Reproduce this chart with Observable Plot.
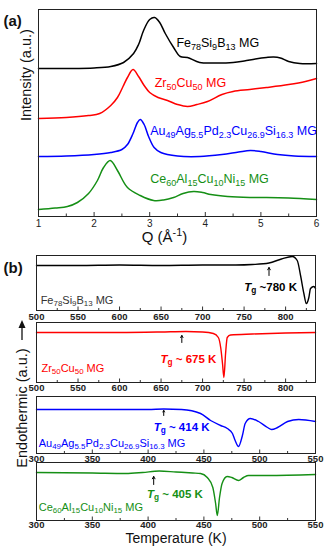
<!DOCTYPE html>
<html><head><meta charset="utf-8">
<script src="https://cdn.jsdelivr.net/npm/d3@7"></script>
<script src="https://cdn.jsdelivr.net/npm/@observablehq/plot@0.6"></script>
<style>
html,body{margin:0;padding:0;background:#fff;}
#root{position:relative;width:329px;height:550px;overflow:hidden;font-family:'Liberation Sans',Arial,sans-serif;}
#root svg{position:absolute;left:0;overflow:visible;background:transparent;}
</style></head><body><div id="root"></div>
<script>
// ---------- (a) XRD data: Q (1/Å) vs intensity (a.u., stacked) ----------
const feQ = [1.0,1.5,2.0,2.3,2.53,2.71,2.8,2.89,3.0,3.09,3.18,3.28,3.43,3.55,3.68,3.9,4.2,4.5,4.7,4.9,5.1,5.23,5.35,5.5,5.7,6.0];
const feI = [148,148,148.5,150,154,163,172,186,197,199,194,183,169,160,159,154,153.5,154,155.5,157.5,159,159.5,158.5,155,153,153];
const zrQ = [1.0,1.5,1.9,2.1,2.3,2.42,2.52,2.6,2.7,2.8,2.9,3.0,3.15,3.32,3.5,3.68,3.85,4.04,4.3,4.5,4.8,5.1,5.5,5.8,6.0];
const zrI = [98,99,101,103,111,119,130,139,147,140,131,124,119,116,112,110,112,115,122,125,127,129,132,135,138];
const auQ = [1.0,1.5,2.0,2.3,2.5,2.6,2.7,2.78,2.83,2.9,2.98,3.08,3.2,3.5,3.9,4.3,4.6,4.81,5.0,5.3,5.6,6.0];
const auI = [60,60.5,62,64,67,72,83,94,97,92,80,69,64,60.5,60,62,64.5,66,65,62,60.5,60];
const ceQ = [1.0,1.3,1.52,1.7,1.9,2.06,2.17,2.29,2.42,2.6,2.83,3.07,3.25,3.43,3.6,3.79,3.95,4.1,4.4,4.8,5.1,5.5,6.0];
const ceI = [7,8.5,10,14,23,36,49,56,46,29,21,16,16.5,19,23,25,24,22,20,19,19,18.5,17];
const xrdTicks = [1,2,3,4,5,6];
const xrdMinor = [1.5,2.5,3.5,4.5,5.5];
const xrdLabels = [
  {Q: 3.48, I: 174, text: "Fe_{78}Si_{9}B_{13} MG", color: "#000000"},
  {Q: 3.09, I: 134, text: "Zr_{50}Cu_{50} MG", color: "#ff0000"},
  {Q: 3.01, I: 86,  text: "Au_{49}Ag_{5.5}Pd_{2.3}Cu_{26.9}Si_{16.3} MG", color: "#0000ff"},
  {Q: 3.01, I: 38,  text: "Ce_{60}Al_{15}Cu_{10}Ni_{15} MG", color: "#158f15"}
];

// ---------- (b) DSC data: temperature (K) vs heat flow (a.u.) ----------
const feT = [500,550,600,650,700,740,760,780,795,808,814,818,822,825,828,830,834,836];
const feDSC = [45,45,45.5,45,45.5,45.5,46,47.5,51.5,54,50,35,17,7,13,22,24,22];
const zrT = [500,550,600,650,680,700,713,719,722,724,725.7,727.7,729.7,733.7,760,800,836];
const zrDSC = [50,50,50,50.5,51,50.5,49,45,34,19,5,29,45,47.5,48.5,49.5,50];
const auT = [300,350,400,414,430,447,456,465,471,475.6,478,481,484.5,487,491.6,499,507,510.6,516,525,535,550];
const auDSC = [44,44,44,44.5,44,40,33,28,25,20,13,7,18,30,35,32,26,24,26,32,34,32];
const ceT = [300,350,380,395,410,425,440,447,453,458,460.5,462,464,466.3,470.8,475,481,485.5,490,507,550];
const ceDSC = [48,47.5,47,48,49.5,48.5,47.5,47,43,33,17,5,23,37,44,43,40,43,45,45,46];
const highTicks = [500,550,600,650,700,750,800];
const highMinor = [525,575,625,675,725,775,825];
const lowTicks = [300,350,400,450,500,550];
const lowMinor = [325,375,425,475,525];
const tgArrows = [
  {T: 780, y1: 35, y2: 43},
  {T: 675, y1: 40, y2: 47},
  {T: 414, y1: 38, y2: 43},
  {T: 405, y1: 36, y2: 44}
];
const tgLabels = [
  {T: 782, v: 23, text: "*T*_{g} ~780 K"},
  {T: 683, v: 23, text: "*T*_{g} ~ 675 K"},
  {T: 430, v: 26, text: "*T*_{g} ~ 414 K"},
  {T: 424, v: 26, text: "*T*_{g} ~ 405 K"}
];
const dscNames = [
  {T: 505, v: 10, text: "Fe_{78}Si_{9}B_{13} MG"},
  {T: 506, v: 14, text: "Zr_{50}Cu_{50} MG"},
  {T: 302, v: 10, text: "Au_{49}Ag_{5.5}Pd_{2.3}Cu_{26.9}Si_{16.3} MG"},
  {T: 302, v: 13, text: "Ce_{60}Al_{15}Cu_{10}Ni_{15} MG"}
];
const colors = ["#000000", "#ff0000", "#0000ff", "#158f15"];

const FONT = "'Liberation Sans', Arial, Helvetica, sans-serif";
const root = document.getElementById("root");
const zip = (xs, ys, kx, ky) => xs.map((x, i) => ({[kx]: x, [ky]: ys[i]}));

function rich(svg) {
  svg.querySelectorAll("text").forEach(t => {
    const s = t.textContent;
    if (!/[_^]\{|\*/.test(s)) return;
    while (t.firstChild) t.removeChild(t.firstChild);
    const re = /_\{([^}]*)\}|\^\{([^}]*)\}|\*([^*]*)\*/g;
    let last = 0, m;
    const add = (str, attrs) => {
      const ts = document.createElementNS("http://www.w3.org/2000/svg", "tspan");
      ts.textContent = str;
      for (const k in attrs) ts.setAttribute(k, attrs[k]);
      t.appendChild(ts);
    };
    while ((m = re.exec(s))) {
      if (m.index > last) add(s.slice(last, m.index), {});
      if (m[1] !== undefined) add(m[1], {"baseline-shift": "-0.28em", "font-size": "72%"});
      else if (m[2] !== undefined) add(m[2], {"baseline-shift": "0.55em", "font-size": "72%"});
      else add(m[3], {"font-style": "italic"});
      last = re.lastIndex;
    }
    if (last < s.length) add(s.slice(last), {});
  });
}
function place(svg, top) {
  svg.style.position = "absolute";
  svg.style.top = top + "px";
  svg.style.left = "0px";
  svg.style.overflow = "visible";
  svg.style.background = "none";
  rich(svg);
  root.appendChild(svg);
}

// ---------- panel (a) ----------
{
  const H = 245, mt = 9, mb = 29, fh = H - mt - mb;
  const series = [[feQ, feI], [zrQ, zrI], [auQ, auI], [ceQ, ceI]];
  const svg = Plot.plot({
    width: 329, height: H, marginTop: mt, marginBottom: mb, marginLeft: 38, marginRight: 13,
    x: {domain: [1, 6], ticks: xrdTicks, tickSize: 0, tickPadding: 3.5, tickFormat: d => String(d), label: null},
    y: {domain: [0, 207], axis: null},
    style: {fontFamily: FONT, fontSize: "10px", background: "none", overflow: "visible", color: "#222"},
    marks: [
      Plot.ruleX(xrdMinor, {x: d => d, insetTop: fh - 2.5, stroke: "#333"}),
      Plot.ruleX(xrdTicks, {x: d => d, insetTop: fh - 4, stroke: "#333"}),
      ...series.map(([q, v], i) => Plot.line(zip(q, v, "Q", "I"), {x: "Q", y: "I", stroke: colors[i], strokeWidth: 1.5, curve: "catmull-rom"})),
      ...xrdLabels.map(d => Plot.text([d], {x: "Q", y: "I", text: "text", fill: d.color, textAnchor: "start", fontSize: 12.5})),
      Plot.frame({stroke: "#222", strokeWidth: 1}),
      Plot.text(["Q (Å^{-1})"], {frameAnchor: "bottom", dy: 25.5, dx: -13, fontSize: 15, fill: "#111"}),
      Plot.text(["Intensity (a.u.)"], {frameAnchor: "left", dx: -12, dy: 8, rotate: -90, fontSize: 14.5, fill: "#111"}),
      Plot.text(["(a)"], {frameAnchor: "top-left", dx: -35, dy: 6, textAnchor: "start", fontSize: 15, fontWeight: "bold", fill: "#111"})
    ]
  });
  place(svg, 0);
}

// ---------- panels (b) ----------
const panels = [
  {top: 245, fh: 55, mb: 14, pad: 3, domain: [500, 836], major: highTicks, minor: highMinor, T: feT, v: feDSC},
  {top: 312, fh: 60, mb: 14, pad: 2, domain: [500, 836], major: highTicks, minor: highMinor, T: zrT, v: zrDSC},
  {top: 386, fh: 57, mb: 14, pad: 2, domain: [300, 550], major: lowTicks, minor: lowMinor, T: auT, v: auDSC},
  {top: 452, fh: 58, mb: 30, pad: 1, domain: [300, 550], major: lowTicks, minor: lowMinor, T: ceT, v: ceDSC}
];
panels.forEach((p, i) => {
  const H = 10 + p.fh + p.mb;
  const extra = [];
  if (i === 0) extra.push(Plot.text(["(b)"], {frameAnchor: "top-left", dx: -33, dy: 7, textAnchor: "start", fontSize: 15, fontWeight: "bold", fill: "#111"}));
  if (i === 3) extra.push(Plot.text(["Temperature (K)"], {frameAnchor: "bottom", dy: 22, fontSize: 14, fontWeight: "normal", fill: "#111"}));
  const svg = Plot.plot({
    width: 329, height: H, marginTop: 10, marginBottom: p.mb, marginLeft: 36, marginRight: 14,
    x: {domain: p.domain, ticks: p.major, tickSize: 0, tickPadding: p.pad, tickFormat: d => String(d), label: null},
    y: {domain: [0, p.fh], axis: null},
    style: {fontFamily: FONT, fontSize: "9.5px", fontWeight: "bold", background: "none", overflow: "visible", color: "#222"},
    marks: [
      Plot.ruleX(p.minor, {x: d => d, insetTop: p.fh - 2, stroke: "#333"}),
      Plot.ruleX(p.major, {x: d => d, insetTop: p.fh - 3.5, stroke: "#333"}),
      Plot.line(zip(p.T, p.v, "T", "v"), {x: "T", y: "v", stroke: colors[i], strokeWidth: 1.4, curve: "monotone-x"}),
      Plot.arrow([tgArrows[i]], {x1: "T", x2: "T", y1: "y1", y2: "y2", stroke: "#000", strokeWidth: 1, headLength: 4.5}),
      Plot.text([tgLabels[i]], {x: "T", y: "v", text: "text", fill: colors[i], fontSize: 11.5, fontWeight: "bold"}),
      Plot.text([dscNames[i]], {x: "T", y: "v", text: "text", fill: i === 0 ? "#333" : colors[i], textAnchor: "start", fontSize: 11, fontWeight: "normal"}),
      Plot.frame({stroke: "#222", strokeWidth: 1}),
      ...extra
    ]
  });
  place(svg, p.top);
});

// ---------- shared y label for (b) ----------
{
  const svg = d3.create("svg").attr("width", 40).attr("height", 240)
    .style("position", "absolute").style("left", "0px").style("top", "310px").style("overflow", "visible");
  svg.append("text").attr("transform", "translate(27,98) rotate(-90)")
    .attr("text-anchor", "middle").attr("font-family", FONT).attr("font-size", 14.5).attr("fill", "#111")
    .text("Endothermic (a.u.)");
  svg.append("line").attr("x1", 22).attr("x2", 22).attr("y1", 30).attr("y2", 17).attr("stroke", "#111").attr("stroke-width", 1.3);
  svg.append("path").attr("d", "M18.5,18 L22,10 L25.5,18 Z").attr("fill", "#111");
  root.appendChild(svg.node());
}
</script></body></html>
